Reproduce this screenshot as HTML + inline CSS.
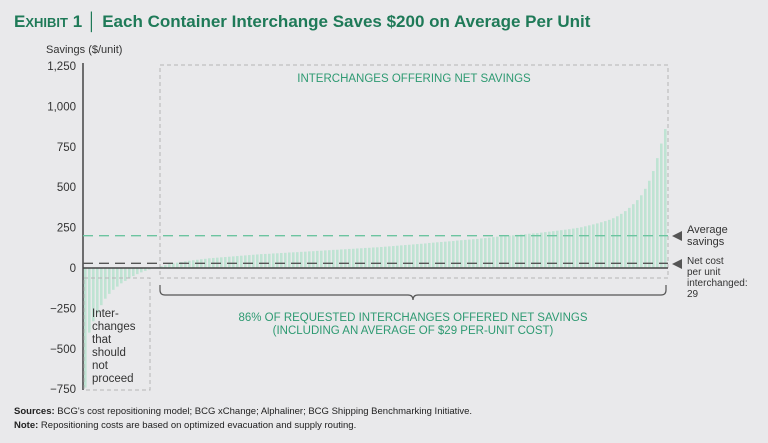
<!DOCTYPE html>
<html><head><meta charset="utf-8"><style>
body{margin:0;background:#e9e9eb;font-family:"Liberation Sans",sans-serif;}
svg{display:block}
</style></head><body>
<svg width="768" height="443" viewBox="0 0 768 443">
<rect width="768" height="443" fill="#e9e9eb"/>
<text x="14" y="27" font-size="17" font-weight="bold" fill="#1f7a58">E<tspan font-size="13">XHIBIT</tspan> 1 │ Each Container Interchange Saves $200 on Average Per Unit</text>
<text x="46" y="53" font-size="11" fill="#333">Savings ($/unit)</text>
<g id="ticks"></g>
<g id="bars"></g>
<line x1="83" y1="63" x2="83" y2="390" stroke="#444" stroke-width="1.5"/>
<rect x="160" y="65" width="508" height="213" fill="none" stroke="#b5b5b5" stroke-dasharray="4,3"/>
<rect x="84" y="278" width="66" height="112" fill="none" stroke="#b5b5b5" stroke-dasharray="4,3"/>
<text x="414" y="82" font-size="11.5" fill="#2e9a72" text-anchor="middle">INTERCHANGES OFFERING NET SAVINGS</text>
<g id="refs"></g>
<path d="M160,285 v5 q0,5 5,5 H408 q5,0 5,5 q0,-5 5,-5 H661 q5,0 5,-5 v-5" fill="none" stroke="#555" stroke-width="1.2"/>
<text x="413" y="321" font-size="11.5" fill="#2e9a72" text-anchor="middle">86% OF REQUESTED INTERCHANGES OFFERED NET SAVINGS</text>
<text x="413" y="334" font-size="11.5" fill="#2e9a72" text-anchor="middle">(INCLUDING AN AVERAGE OF $29 PER-UNIT COST)</text>
<g font-size="11.5" fill="#333">
<text x="92" y="317">Inter-</text><text x="92" y="330">changes</text><text x="92" y="343">that</text><text x="92" y="356">should</text><text x="92" y="369">not</text><text x="92" y="382">proceed</text></g>
<polygon points="672,236 682,231 682,241" fill="#555"/>
<text x="687" y="233" font-size="11" fill="#333">Average</text>
<text x="687" y="245" font-size="11" fill="#333">savings</text>
<polygon points="672,264 682,259 682,269" fill="#555"/>
<g font-size="10" fill="#333">
<text x="687" y="264">Net cost</text><text x="687" y="275">per unit</text><text x="687" y="286">interchanged:</text><text x="687" y="297">29</text></g>
<text x="14" y="414" font-size="9.5" fill="#222"><tspan font-weight="bold">Sources: </tspan>BCG's cost repositioning model; BCG xChange; Alphaliner; BCG Shipping Benchmarking Initiative.</text>
<text x="14" y="428" font-size="9.5" fill="#222"><tspan font-weight="bold">Note: </tspan>Repositioning costs are based on optimized evacuation and supply routing.</text>
</svg>
<script>
const tickValues=[1250,1000,750,500,250,0,-250,-500,-750];
const tickLabels=["1,250","1,000","750","500","250","0","\u2212250","\u2212500","\u2212750"];
const savings=[-740,-400,-330,-280,-230,-190,-160,-135,-115,-95,-80,-65,-50,-38,-27,-18,-9,-2,
5,12,18,24,29,33,37,41,45,48,51,54,57,60,62,64,66,68,70,72,74,76,78,80,82,84,86,87,88,90,91,93,94,96,97,98,100,
101,103,104,106,107,109,110,112,113,115,116,118,119,121,122,124,125,127,128,130,132,134,136,138,140,
142,144,146,148,150,152,155,157,159,161,163,165,167,170,172,174,176,178,180,183,185,188,191,194,197,
199,201,203,205,207,209,212,214,216,219,222,225,228,231,234,237,240,244,248,252,
258,264,270,276,283,290,298,308,320,335,352,372,395,420,450,490,540,600,680,770,860];
const averageSavings=200;
const netCost=29;
const NS="http://www.w3.org/2000/svg";
function y(v){return 268-v*0.1616;}
function x(i){return 84+i*(584/savings.length);}
const tg=document.getElementById('ticks');
tickValues.forEach((v,i)=>{const t=document.createElementNS(NS,'text');
t.setAttribute('x',76);t.setAttribute('y',y(v)+4);t.setAttribute('text-anchor','end');
t.setAttribute('font-size','11.5');t.setAttribute('fill','#333');t.textContent=tickLabels[i];


tg.appendChild(t);});
const bg=document.getElementById('bars');
savings.forEach((v,i)=>{const r=document.createElementNS(NS,'rect');
r.setAttribute('x',x(i));r.setAttribute('width',2.6);
r.setAttribute('y',Math.min(y(v),y(0)));r.setAttribute('height',Math.abs(y(v)-y(0)));
r.setAttribute('fill','#bfe3d3');


bg.appendChild(r);});
const rg=document.getElementById('refs');
function line(v,col,dash,name){const l=document.createElementNS(NS,'line');
l.setAttribute('x1',83);l.setAttribute('x2',668);l.setAttribute('y1',y(v));l.setAttribute('y2',y(v));
l.setAttribute('stroke',col);l.setAttribute('stroke-width',1.4);if(dash)l.setAttribute('stroke-dasharray',dash);


rg.appendChild(l);}
line(0,'#444',null,'zero-line');
line(averageSavings,'#6cc4a0','10,6','average-savings-line');
line(netCost,'#555','10,6','net-cost-line');
</script>
</body></html>
